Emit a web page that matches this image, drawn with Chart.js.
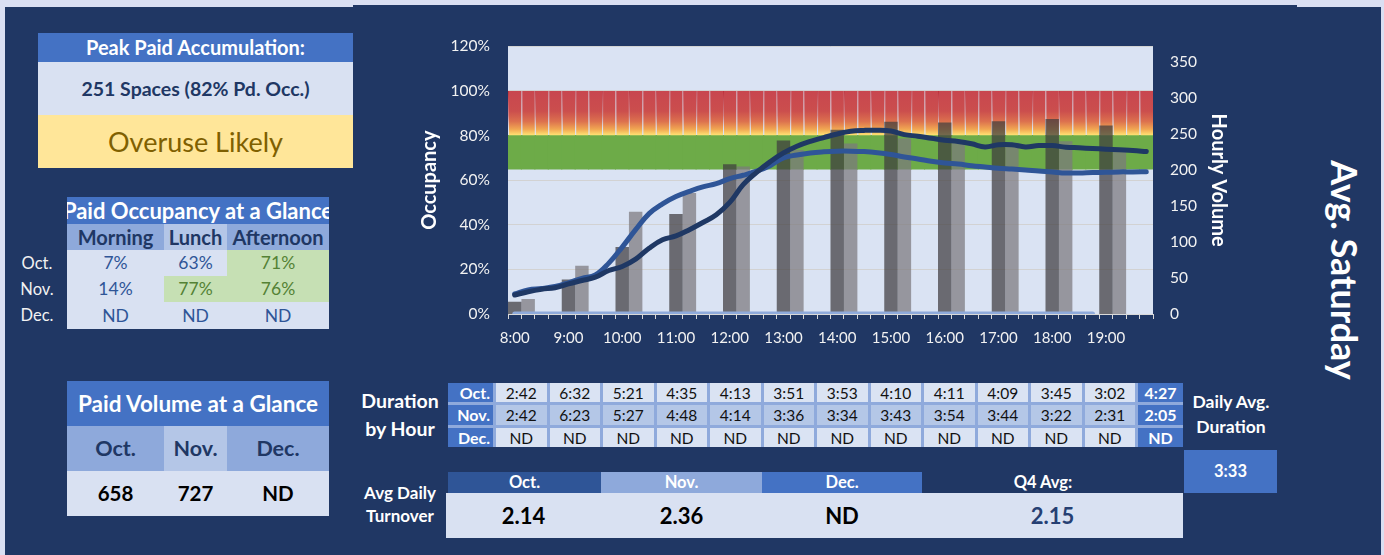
<!DOCTYPE html>
<html>
<head>
<meta charset="utf-8">
<script src="https://cdn.jsdelivr.net/npm/chart.js@4.4.1/dist/chart.umd.min.js"></script>
<style>
  body { margin: 0; width: 1384px; height: 555px; background: #dadff2; overflow: hidden;
         font-family: Lato, "Open Sans", sans-serif; position: relative; }
  .abs { position: absolute; }
  .navy { background: #203764; }
  .c { text-align: center; white-space: nowrap; }
  .w { color: #fff; font-weight: bold; }
  .row { display: flex; }
  .row > div { text-align: center; white-space: nowrap; }
  #dur { display: grid; grid-template-columns: 45px repeat(12, 50.5px) 45px; grid-template-rows: 19px 20px 19px;
         column-gap: 3px; row-gap: 3px; background: #8faadc; }
  #dur div { font-size: 15.5px; text-align: center; line-height: 20px; color: #111; }
  #dur .lab { background: #4472c4; color: #fff; font-weight: bold; text-align: right; padding-right: 3px; font-size: 16px; }
  #dur .avg { background: #4472c4; color: #fff; font-weight: bold; font-size: 16px; }
  #dur .l1 { background: #dae3f3; }
  #dur .l2 { background: #b4c7e7; }
</style>
</head>
<body>
<div class="abs navy" style="left:5px;top:7px;width:1376px;height:548px"></div>
<div class="abs navy" style="left:353px;top:5px;width:944px;height:6px"></div>

<!-- peak box -->
<div class="abs" style="left:38px;top:33px;width:315px">
  <div class="c w" style="background:#4472c4;height:29px;line-height:29px;font-size:20px">Peak Paid Accumulation:</div>
  <div class="c" style="background:#d9e1f2;height:53px;line-height:53px;font-size:19.5px;font-weight:bold;color:#203764">251 Spaces (82% Pd. Occ.)</div>
  <div class="c" style="background:#ffe699;height:53px;line-height:53px;font-size:27px;color:#7f6000">Overuse Likely</div>
</div>

<!-- occupancy at a glance -->
<div class="abs" style="left:67px;top:197px;width:262px">
  <div class="c w" style="background:#4472c4;height:27px;line-height:27px;font-size:22px;overflow:hidden;display:flex;justify-content:center"><span>Paid Occupancy at a Glance</span></div>
  <div class="row" style="height:26px;line-height:26px;font-size:20px;font-weight:bold;color:#203764">
    <div style="width:97px;background:#8ea9db">Morning</div>
    <div style="width:63px;background:#b4c6e7">Lunch</div>
    <div style="width:102px;background:#8ea9db">Afternoon</div>
  </div>
  <div class="row" style="height:26px;line-height:26px;font-size:17.5px;color:#2f5597">
    <div style="width:97px;background:#d9e1f2">7%</div>
    <div style="width:63px;background:#d9e1f2">63%</div>
    <div style="width:102px;background:#c6e0b4;color:#548235">71%</div>
  </div>
  <div class="row" style="height:26px;line-height:26px;font-size:17.5px;color:#2f5597">
    <div style="width:97px;background:#d9e1f2">14%</div>
    <div style="width:63px;background:#c6e0b4;color:#548235">77%</div>
    <div style="width:102px;background:#c6e0b4;color:#548235">76%</div>
  </div>
  <div class="row" style="height:27px;line-height:27px;font-size:17.5px;color:#2f5597">
    <div style="width:97px;background:#d9e1f2">ND</div>
    <div style="width:63px;background:#d9e1f2">ND</div>
    <div style="width:102px;background:#d9e1f2">ND</div>
  </div>
</div>
<div class="abs c" style="left:9px;top:250px;width:56px;font-size:16.5px;line-height:26px;color:#f2f2f2">Oct.<br>Nov.<br>Dec.</div>

<!-- volume at a glance -->
<div class="abs" style="left:67px;top:381px;width:262px">
  <div class="c w" style="background:#4472c4;height:45px;line-height:45px;font-size:22.5px">Paid Volume at a Glance</div>
  <div class="row" style="height:45px;line-height:45px;font-size:21.5px;font-weight:bold;color:#203764">
    <div style="width:97px;background:#8ea9db">Oct.</div>
    <div style="width:63px;background:#b4c6e7">Nov.</div>
    <div style="width:102px;background:#8ea9db">Dec.</div>
  </div>
  <div class="row" style="height:45px;line-height:45px;font-size:20.5px;font-weight:bold;color:#000;background:#d9e1f2">
    <div style="width:97px">658</div>
    <div style="width:63px">727</div>
    <div style="width:102px">ND</div>
  </div>
</div>

<!-- chart -->
<div class="abs" style="left:415px;top:19px;width:840px;height:333px"><canvas id="occChart"></canvas></div>

<!-- duration by hour -->
<div class="abs c w" style="left:350px;top:387px;width:100px;font-size:19.5px;line-height:28px">Duration<br>by Hour</div>
<div id="dur" class="abs" style="left:448px;top:383px"></div>
<div class="abs c w" style="left:1181px;top:389px;width:100px;font-size:17.5px;line-height:25px">Daily Avg.<br>Duration</div>
<div class="abs c w" style="left:1184px;top:450px;width:93px;height:43px;line-height:42px;background:#4472c4;font-size:16.5px">3:33</div>

<!-- turnover -->
<div class="abs c w" style="left:350px;top:481px;width:100px;font-size:17px;line-height:23px">Avg Daily<br>Turnover</div>
<div class="abs row w" style="left:448px;top:472px;height:21px;line-height:21px;font-size:16.5px">
  <div style="width:153px;background:#2f5597">Oct.</div>
  <div style="width:161px;background:#8ea9db">Nov.</div>
  <div style="width:160px;background:#4472c4">Dec.</div>
  <div style="width:242px">Q4 Avg:</div>
</div>
<div class="abs row" style="left:446px;top:493px;width:737px;height:45px;line-height:45px;background:#d9e1f2;font-size:22px;font-weight:bold;color:#000">
  <div style="width:155px">2.14</div>
  <div style="width:161px">2.36</div>
  <div style="width:160px">ND</div>
  <div style="width:261px;color:#263f73">2.15</div>
</div>

<div class="abs c w" style="left:1220px;top:249px;width:250px;font-size:36px;line-height:42px;transform:rotate(90deg)">Avg. Saturday</div>

<script>
// quarter-hour categories, labelled on the hour
const hours = ['8:00', '9:00', '10:00', '11:00', '12:00', '13:00', '14:00', '15:00', '16:00', '17:00', '18:00', '19:00'];
const quarterLabels = hours.flatMap(h => {
  const hh = h.split(':')[0];
  return [h, hh + ':15', hh + ':30', hh + ':45'];
});

// hourly volume (right axis)
const volOct = [17, 48, 93, 139, 208, 241, 256, 267, 266, 268, 271, 262];
const volNov = [21, 67, 142, 168, 205, 228, 237, 244, 238, 238, 240, 225];
const volTicks = [0, 50, 100, 150, 200, 250, 300, 350];

// occupancy % by quarter hour (left axis)
const occOct = [9, 10.8, 11.4, 12.3, 14, 16, 17.5, 22.8, 30, 37.8, 45, 49.4,
                52.7, 55, 57, 58.4, 60.7, 62.2, 64, 66.5, 70, 71.3, 72.2, 72.7,
                73, 73, 72.8, 72.3, 71.5, 70.4, 69.5, 68.5, 67.7, 67.2, 66.5, 65.9,
                65.3, 65, 64.6, 64.1, 63.7, 63.2, 63.2, 63.4, 63.5, 63.7, 63.7, 63.8];
const occNov = [8.5, 10, 11.1, 11.8, 13.5, 15, 16.5, 19.5, 21.3, 24.6, 29.5, 33.3,
                35, 37.8, 41, 44.5, 50, 58, 63.5, 68.2, 72.2, 75.2, 77.4, 79.1,
                80.7, 81.9, 82.3, 82.4, 82, 80.4, 79.7, 78.8, 77.9, 77.3, 76.3, 74.9,
                75.9, 75.9, 74.9, 75.5, 75.5, 74.8, 74.5, 74.2, 73.9, 73.6, 73.3, 72.8];
const occDec = [0, 0, 0, 0, 0, 0, 0, 0, 0, 0, 0, 0,
                0, 0, 0, 0, 0, 0, 0, 0, 0, 0, 0, 0,
                0, 0, 0, 0, 0, 0, 0, 0, 0, 0, 0, 0,
                0, 0, 0, 0, 0, 0, 0, 0, null, null, null, null];

// target bands
const redBand = [80, 100];
const greenBand = [65, 80];

// duration table
const durMonths = ['Oct.', 'Nov.', 'Dec.'];
const durOct = ['2:42', '6:32', '5:21', '4:35', '4:13', '3:51', '3:53', '4:10', '4:11', '4:09', '3:45', '3:02'];
const durNov = ['2:42', '6:23', '5:27', '4:48', '4:14', '3:36', '3:34', '3:43', '3:54', '3:44', '3:22', '2:31'];
const durDec = ['ND', 'ND', 'ND', 'ND', 'ND', 'ND', 'ND', 'ND', 'ND', 'ND', 'ND', 'ND'];
const durAvg = ['4:27', '2:05', 'ND'];

const dur = document.getElementById('dur');
[durOct, durNov, durDec].forEach((vals, r) => {
  let html = '<div class="lab">' + durMonths[r] + '</div>';
  vals.forEach(v => { html += '<div class="' + (r === 1 ? 'l2' : 'l1') + '">' + v + '</div>'; });
  html += '<div class="avg">' + durAvg[r] + '</div>';
  dur.insertAdjacentHTML('beforeend', html);
});

const hourBars = (vals, off) => quarterLabels.map((_, i) => i % 4 === off ? vals[Math.floor(i / 4)] : null);

function bandFill(ctx) {
  const c = ctx.chart;
  if (!c.chartArea) return '#c8464f';
  const y = c.scales.y;
  const g = c.ctx.createLinearGradient(0, y.getPixelForValue(redBand[1]), 0, y.getPixelForValue(redBand[0]));
  g.addColorStop(0, '#c8464f');
  g.addColorStop(0.45, '#cb4e4d');
  g.addColorStop(0.68, '#dc704e');
  g.addColorStop(0.86, '#f1a752');
  g.addColorStop(1, '#ffe676');
  return g;
}
function bandEdge(ctx) {
  const c = ctx.chart;
  if (!c.chartArea) return 'rgba(180,20,30,0.8)';
  const y = c.scales.y;
  const g = c.ctx.createLinearGradient(0, y.getPixelForValue(redBand[1]), 0, y.getPixelForValue(redBand[0]));
  g.addColorStop(0, 'rgba(185,15,25,0.85)');
  g.addColorStop(0.55, 'rgba(195,35,35,0.5)');
  g.addColorStop(0.85, 'rgba(220,100,60,0)');
  return g;
}

const plotBg = {
  id: 'plotBg',
  beforeDraw(chart) {
    const { ctx, chartArea: a } = chart;
    ctx.save();
    ctx.fillStyle = '#dae3f3';
    ctx.fillRect(a.left, a.top, a.width, a.height);
    ctx.restore();
  }
};

const tickFont = { family: 'Lato', size: 15.5 };
const titleFont = { family: 'Lato', size: 20, weight: 'bold' };

new Chart(document.getElementById('occChart'), {
  data: {
    labels: quarterLabels,
    datasets: [
      { type: 'line', data: occNov, yAxisID: 'y', borderColor: '#1f3864', borderWidth: 5,
        tension: 0.4, pointRadius: 0, borderCapStyle: 'round', borderJoinStyle: 'round', order: 1 },
      { type: 'line', data: occOct, yAxisID: 'y', borderColor: '#2f5597', borderWidth: 5,
        tension: 0.4, pointRadius: 0, borderCapStyle: 'round', borderJoinStyle: 'round', order: 2 },
      { type: 'line', data: occDec, yAxisID: 'y', borderColor: '#8eaadb', borderWidth: 5,
        pointRadius: 0, borderCapStyle: 'round', spanGaps: false, order: 3 },
      { type: 'bar', data: hourBars(volOct, 0), yAxisID: 'y1', backgroundColor: 'rgba(62,60,62,0.72)',
        grouped: false, barPercentage: 1, categoryPercentage: 1, inflateAmount: 0, order: 5 },
      { type: 'bar', data: hourBars(volNov, 1), yAxisID: 'y1', backgroundColor: 'rgba(124,121,125,0.72)',
        grouped: false, barPercentage: 1, categoryPercentage: 1, inflateAmount: 0, order: 6 },
      { type: 'bar', data: quarterLabels.map(() => redBand), yAxisID: 'y', backgroundColor: bandFill,
        borderColor: bandEdge, borderWidth: { left: 1, right: 0, top: 0, bottom: 0 }, borderSkipped: false,
        grouped: false, barPercentage: 1, categoryPercentage: 1, inflateAmount: 0, order: 10 },
      { type: 'bar', data: quarterLabels.map(() => greenBand), yAxisID: 'y', backgroundColor: '#6dab48',
        grouped: false, barPercentage: 1, categoryPercentage: 1, inflateAmount: 0.5, order: 11 }
    ]
  },
  options: {
    responsive: true,
    maintainAspectRatio: false,
    animation: false,
    layout: { padding: { top: 5, left: 0, right: 0, bottom: 0 } },
    plugins: { legend: { display: false }, tooltip: { enabled: false } },
    scales: {
      x: {
        offset: true,
        grid: { display: true, drawOnChartArea: false, offset: true, color: '#d9d9d9', tickLength: 5 },
        border: { display: true, color: '#d9d9d9' },
        ticks: { color: '#f2f2f2', font: { family: 'Lato', size: 15 }, autoSkip: false, maxRotation: 0, minRotation: 0, padding: 10,
                 callback: (v, i) => i % 4 === 0 ? quarterLabels[i] : '' },
        afterFit: s => { s.height = 38; }
      },
      y: {
        position: 'left', min: 0, max: 120,
        grid: { color: '#d2d2d2', drawTicks: false },
        border: { display: false },
        ticks: { stepSize: 20, color: '#f2f2f2', font: tickFont, padding: 18, callback: v => v + '%' },
        title: { display: true, text: 'Occupancy', color: '#ffffff', font: titleFont, padding: { top: 3, bottom: 0 } },
        afterFit: s => { s.width = 93; }
      },
      y1: {
        position: 'right', min: 0, max: 372,
        grid: { display: false, drawTicks: false },
        border: { display: false },
        ticks: { color: '#f2f2f2', font: tickFont, padding: 17 },
        afterBuildTicks: axis => { axis.ticks = volTicks.map(v => ({ value: v })); },
        title: { display: true, text: 'Hourly Volume', color: '#ffffff', font: titleFont, padding: { top: 25, bottom: 0 } },
        afterFit: s => { s.width = 102; }
      }
    }
  },
  plugins: [plotBg]
});
</script>
</body>
</html>
